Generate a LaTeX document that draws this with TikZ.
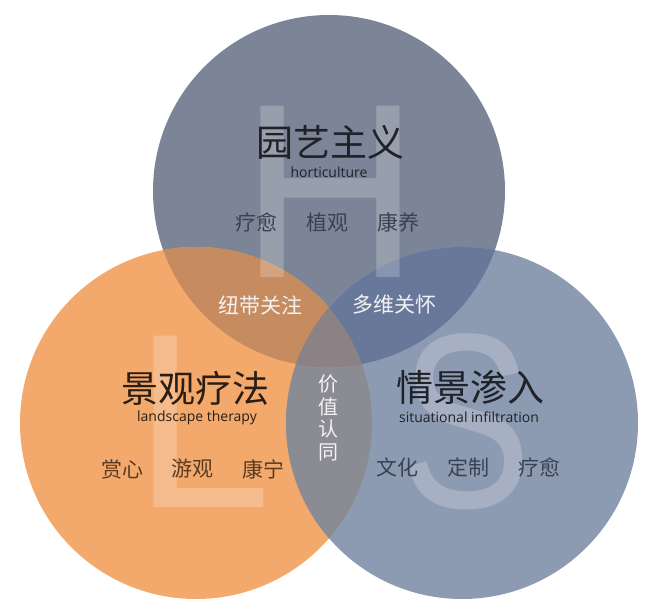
\documentclass[tikz,border=0pt]{standalone}
\usepackage{fontspec}
\setmainfont{Noto Sans CJK SC}
\newfontfamily\latinfont{Open Sans}
\newfontfamily\letterfont{Liberation Sans}
\definecolor{topc}{HTML}{7B8597}
\definecolor{leftc}{HTML}{F4A96C}
\definecolor{rightc}{HTML}{8D9BB2}
\definecolor{tlc}{HTML}{C68B5E}
\definecolor{trc}{HTML}{67789A}
\definecolor{lrc}{HTML}{8B8B93}
\definecolor{tlrc}{HTML}{8C8285}
\definecolor{darkink}{HTML}{1F2229}
\definecolor{grayink}{HTML}{3B4150}
\definecolor{brownink}{HTML}{2A1E14}
\definecolor{ochreink}{HTML}{5A3B22}
\definecolor{jointink}{HTML}{F2F2F2}
\begin{document}
\begin{tikzpicture}[x=1pt,y=-1pt,
		title/.style={font=\fontsize{37}{37}\selectfont, inner sep=0pt},
		subtitle/.style={font=\latinfont\fontsize{14}{14}\selectfont, inner sep=0pt},
		item/.style={font=\fontsize{21}{21}\selectfont, inner sep=0pt},
		joint/.style={item, text=jointink},
		bigletter/.style={font=\letterfont\fontsize{249}{249}\selectfont, text=white, text opacity=0.22, inner sep=0pt}]
	\useasboundingbox (0,0) rectangle (658,612);
	\coordinate (T) at (329,191);
	\coordinate (L) at (196,423);
	\coordinate (R) at (462,423);
	
	\fill[topc] (T) circle (176pt);
	\fill[leftc] (L) circle (176pt);
	\fill[rightc] (R) circle (176pt);
	
	\begin{scope}
		\clip (L) circle (176pt);
		\fill[lrc] (R) circle (176pt);
	\end{scope}
	\begin{scope}
		\clip (T) circle (176pt);
		\fill[tlc] (L) circle (176pt);
		\fill[trc] (R) circle (176pt);
		\clip (L) circle (176pt);
		\fill[tlrc] (R) circle (176pt);
	\end{scope}
	
	\node[bigletter, anchor=base] (bigH) at (330,277) {H};
	\node[bigletter, anchor=base west] (bigL) at (133,507) {L};
	\node[bigletter, anchor=base, xscale=0.79] (bigS) at (466,507) {S};
	
	\node[title, text=darkink] (hort) at (330,142) {园艺主义};
	\node[subtitle, text=darkink] (horten) at (329,172) {horticulture};
	\node[item, text=grayink] (hA) at (256,222) {疗愈};
	\node[item, text=grayink] (hB) at (327,222) {植观};
	\node[item, text=grayink] (hC) at (398,222) {康养};
	
	\node[title, text=brownink] (land) at (195,388) {景观疗法};
	\node[subtitle, text=brownink] (landen) at (197,418) {landscape therapy};
	\node[item, text=ochreink] (lA) at (122,469) {赏心};
	\node[item, text=ochreink] (lB) at (192,469) {游观};
	\node[item, text=ochreink] (lC) at (263,469) {康宁};
	
	\node[title, text=darkink] (situ) at (470,387) {情景渗入};
	\node[subtitle, text=darkink] (situen) at (469,417) {situational infiltration};
	\node[item, text=grayink] (sA) at (397,467) {文化};
	\node[item, text=grayink] (sB) at (468,467) {定制};
	\node[item, text=grayink] (sC) at (539,467) {疗愈};
	
	\node[joint] (tl) at (260,305) {纽带关注};
	\node[joint] (tr) at (394,305) {多维关怀};
	\node[joint, align=center, font=\fontsize{20}{22.5}\selectfont] (core) at (328,418) {价\\值\\认\\同};
\end{tikzpicture}
\end{document}
